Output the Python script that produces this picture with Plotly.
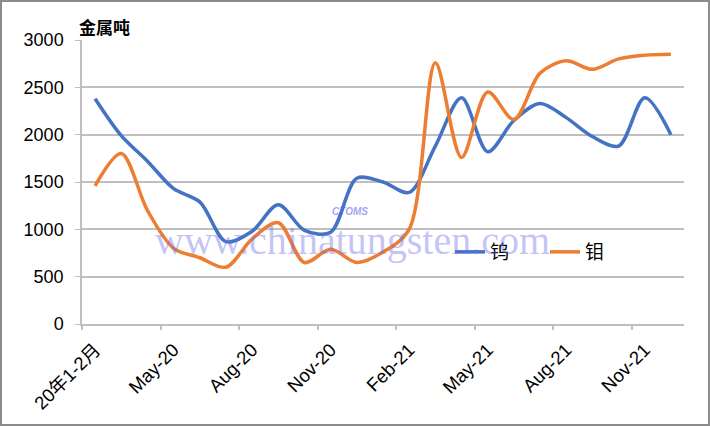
import plotly.graph_objects as go

categories = ["20年1-2月", "Mar-20", "Apr-20", "May-20", "Jun-20", "Jul-20", "Aug-20",
              "Sep-20", "Oct-20", "Nov-20", "Dec-20", "Jan-21", "Feb-21", "Mar-21",
              "Apr-21", "May-21", "Jun-21", "Jul-21", "Aug-21", "Sep-21", "Oct-21",
              "Nov-21", "Dec-21"]
tungsten = [2380, 1990, 1720, 1430, 1290, 870, 980, 1260, 990, 970, 1540, 1500,
            1390, 1880, 2390, 1820, 2150, 2330, 2180, 1980, 1880, 2390, 2000]
molybdenum = [1460, 1800, 1200, 800, 700, 600, 900, 1070, 650, 790, 650, 760,
              1000, 2760, 1760, 2450, 2160, 2650, 2780, 2690, 2800, 2840, 2850]
tick_labels = ["20年1-2月", "May-20", "Aug-20", "Nov-20", "Feb-21", "May-21", "Aug-21", "Nov-21"]

FONT = "Liberation Sans, Arial, Noto Sans CJK SC"
BLUE = "#4472C4"
ORANGE = "#ED7D31"
GRID = "#BFBFBF"

n = len(categories)
label_idx = [categories.index(t) for t in tick_labels]
boundary_ticks = [i - 0.5 for i in label_idx]

fig = go.Figure()
fig.add_trace(go.Scatter(x=categories, y=tungsten, name="钨", mode="lines",
                         line=dict(color=BLUE, width=3.5, shape="spline", smoothing=0.9)))
fig.add_trace(go.Scatter(x=categories, y=molybdenum, name="钼", mode="lines",
                         line=dict(color=ORANGE, width=3.5, shape="spline", smoothing=0.9)))
# invisible helper trace so the tick-mark axis is drawn
fig.add_trace(go.Scatter(x=list(range(n)), y=tungsten, xaxis="x2", mode="lines",
                         line=dict(width=0), opacity=0, showlegend=False, hoverinfo="skip"))

W, H = 710, 426
ml, mr, mt, mb = 82, 26, 40, 102
pw, ph = W - ml - mr, H - mt - mb

fig.update_layout(
    width=W, height=H,
    margin=dict(l=ml, r=mr, t=mt, b=mb),
    paper_bgcolor="white", plot_bgcolor="white",
    font=dict(family=FONT, size=17, color="#000000"),
    showlegend=True,
    legend=dict(orientation="h", x=(450 - ml) / pw, y=(324 - 252) / ph,
                xanchor="left", yanchor="middle", bgcolor="rgba(0,0,0,0)",
                font=dict(size=19, family=FONT), entrywidth=50, entrywidthmode="pixels",
                itemwidth=30),
    xaxis=dict(type="category", range=[-0.5, n - 0.5], tickmode="array",
               tickvals=tick_labels, ticktext=tick_labels,
               tickangle=-45, ticks="", ticklabelstandoff=6,
               showline=True, linecolor=GRID, linewidth=1.5, showgrid=False,
               tickfont=dict(size=18.5, family=FONT), zeroline=False),
    xaxis2=dict(overlaying="x", anchor="y", side="bottom", type="linear",
                range=[-0.5, n - 0.5], tickmode="array", tickvals=boundary_ticks,
                showticklabels=False, ticks="outside", ticklen=5, tickcolor=GRID,
                tickwidth=1.5, showgrid=False, zeroline=False, showline=False),
    yaxis=dict(range=[0, 3000], dtick=500, tick0=0, ticks="outside", ticklen=5,
               tickcolor=GRID, showline=True, linecolor=GRID, linewidth=1.5,
               showgrid=True, gridcolor=GRID, gridwidth=1.5, zeroline=False,
               tickfont=dict(size=18, family=FONT), ticklabelstandoff=8),
)

# axis title at top-left
fig.add_annotation(text="<b>金属吨</b>", xref="paper", yref="paper",
                   x=(77 - ml) / pw, y=(324 - 27) / ph, xanchor="left", yanchor="middle",
                   showarrow=False, font=dict(size=17, family="Noto Sans CJK SC"))

# watermark
fig.add_annotation(text="www.chinatungsten.com", xref="paper", yref="paper",
                   x=(352 - ml) / pw, y=(324 - 240) / ph, xanchor="center", yanchor="middle",
                   showarrow=False,
                   font=dict(size=40, family="Liberation Serif, DejaVu Serif",
                             color="rgba(110,110,235,0.42)"))
fig.add_annotation(text="<i><b>CTOMS</b></i>", xref="paper", yref="paper",
                   x=(350 - ml) / pw, y=(324 - 211) / ph, xanchor="center", yanchor="middle",
                   showarrow=False,
                   font=dict(size=10, family=FONT, color="rgba(100,100,235,0.6)"))

# outer frame
fig.add_shape(type="rect", xref="paper", yref="paper",
              x0=-(ml - 1) / pw, x1=1 + (mr - 1) / pw, y0=-(mb - 1) / ph, y1=1 + (mt - 1) / ph,
              line=dict(color="#8C8C8C", width=2), fillcolor="rgba(0,0,0,0)", layer="below")

fig.write_html("out.html")
